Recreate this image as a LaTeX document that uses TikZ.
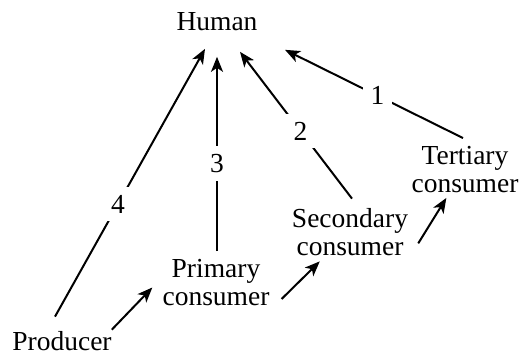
\documentclass[tikz,border=0pt]{standalone}
\usepackage{fontspec}
\setmainfont{Liberation Serif}
\usetikzlibrary{arrows.meta,calc}
\begin{document}
\begin{tikzpicture}[x=1pt,y=-1pt,
  lbl/.style={font=\fontsize{27.5}{28}\selectfont, align=center, inner sep=0pt},
  arr/.style={line width=2pt, -{Stealth[length=15pt,width=12pt,inset=4pt]}},
  num/.style={font=\fontsize{27.5}{28}\selectfont, fill=white, inner sep=8pt}]
\useasboundingbox (0,0) rectangle (524,358);
\node[lbl] (human) at (217,21.5) {Human};
\node[lbl] (ter) at (465,169.5) {Tertiary\\consumer};
\node[lbl] (sec) at (350,232.5) {Secondary\\consumer};
\node[lbl] (prim) at (216,282.5) {Primary\\consumer};
\node[lbl] (prod) at (62,341.5) {Producer};
% to human
\draw[arr] ($(prod.north)+(-7,-15)$) -- node[num,pos=0.42] {4} ($(human.south)+(-12,18)$);
\draw[arr] ($(prim.north)+(1,-8)$) -- node[num,pos=0.45] {3} ($(human.south)+(0,26)$);
\draw[arr] ($(sec.north)+(2,-10)$) -- node[num,pos=0.46] {2} ($(human.south)+(23,21)$);
\draw[arr] ($(ter.north)+(-2,-8)$) -- node[num,pos=0.48] {1} ($(human.south)+(68,19)$);
% chain
\draw[arr] ($(prod.north east)+(0,-2)$) -- ($(prim.west)+(-10,5)$);
\draw[arr] ($(prim.south east)+(12,-7)$) -- ($(sec.south west)+(28,5)$);
\draw[arr] ($(sec.south east)+(10,-13)$) -- ($(ter.south west)+(35,5)$);
\end{tikzpicture}
\end{document}
